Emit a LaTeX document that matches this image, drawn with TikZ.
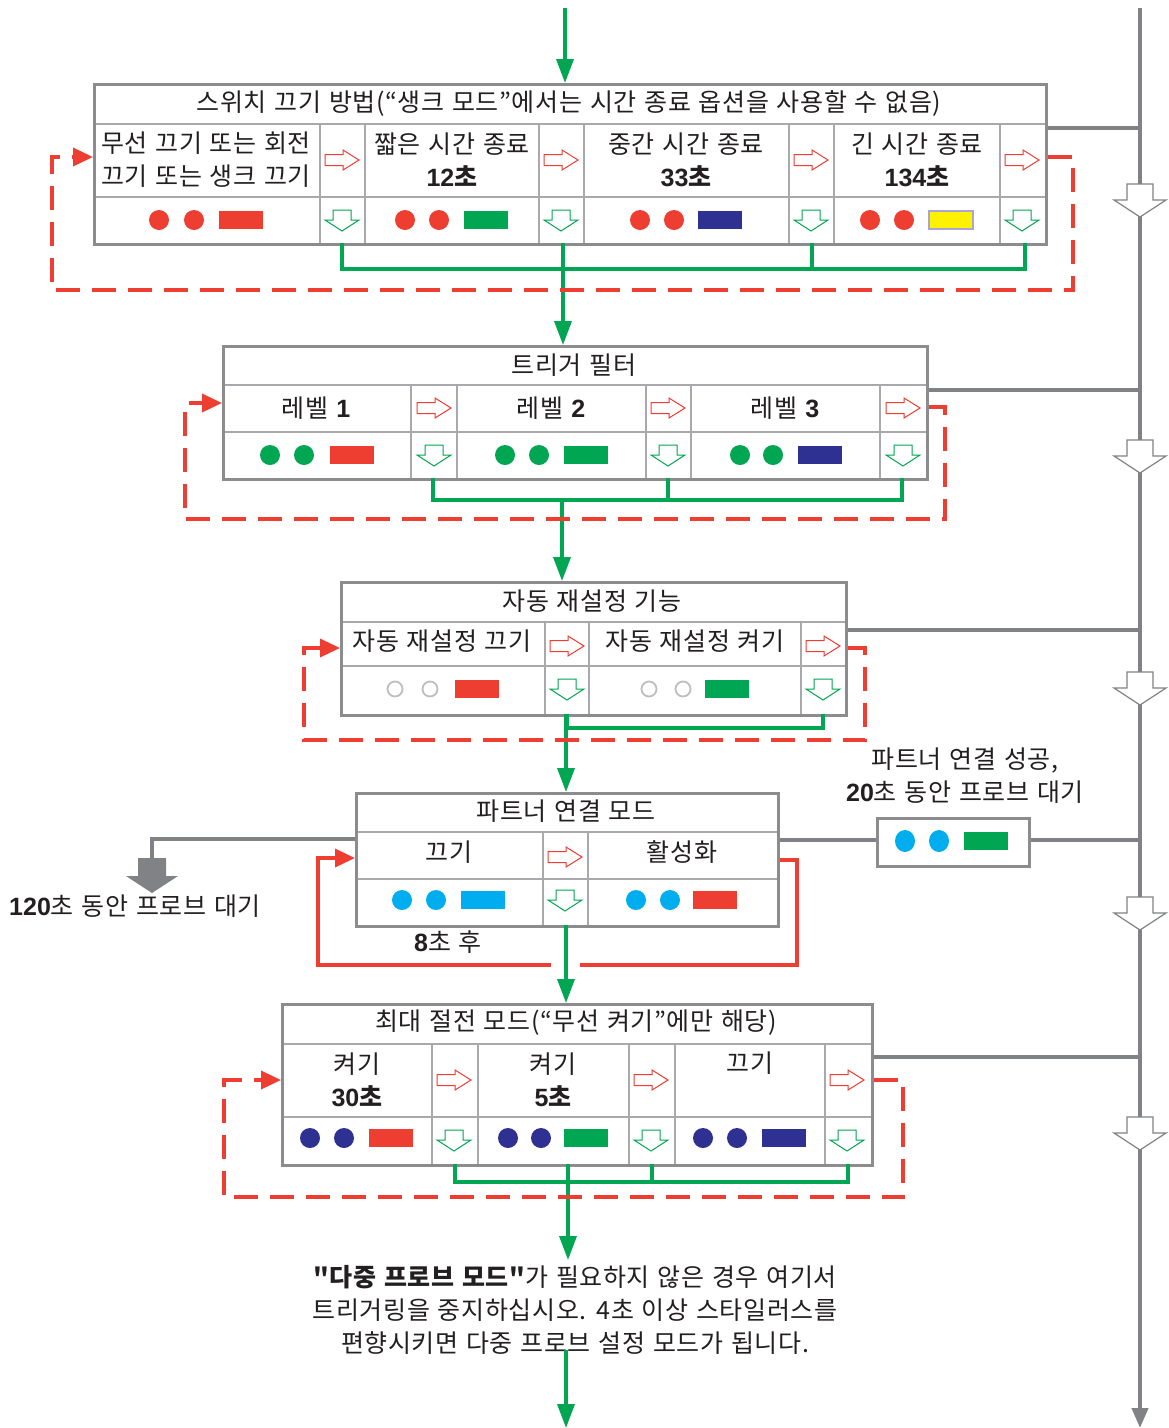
\documentclass[tikz,border=0pt]{standalone}
\usepackage{fontspec}
\setmainfont{Noto Sans CJK KR}[WordSpace=1.25,LetterSpace=2.5]
\newfontfamily\qfont{Noto Sans CJK KR}[WordSpace=1.25,LetterSpace=2.5]
\newfontfamily\numfont{Liberation Sans}
\usetikzlibrary{arrows.meta}
\definecolor{cred}{RGB}{238,62,50}
\definecolor{cgreen}{RGB}{0,166,81}
\definecolor{cnavy}{RGB}{46,49,146}
\definecolor{cyellow}{RGB}{255,242,0}
\definecolor{lav}{RGB}{170,165,210}
\definecolor{ccyan}{RGB}{0,174,239}
\definecolor{lgray}{RGB}{128,130,133}
\definecolor{boxgray}{RGB}{140,140,143}
\definecolor{innergray}{RGB}{167,169,172}
\definecolor{ringgray}{RGB}{188,190,192}
\definecolor{txtc}{RGB}{35,31,32}
\newcommand{\bn}[1]{{\numfont\bfseries #1}}
\newcommand{\mk}[6]{\fill[#5] (#1,#4) circle (10pt) (#2,#4) circle (10pt); \fill[#6] (#3,#4-9) rectangle (#3+44,#4+9);}
\newcommand{\mkring}[4]{\draw[ringgray,line width=1.8pt] (#1,#3) circle (7.5pt) (#2,#3) circle (7.5pt);}
\tikzset{
  box/.style={draw=boxgray, line width=2.5pt, inner sep=0pt, anchor=north west},
  inl/.style={draw=innergray, line width=1.3pt},
  gline/.style={draw=cgreen, line width=3.5pt},
  garrow/.style={draw=cgreen, line width=3.5pt, -{Triangle[length=24pt,width=17pt]}},
  rdash/.style={draw=cred, line width=3.5pt, dash pattern=on 24pt off 12pt, -{Triangle[length=20pt,width=18pt]}},
  rsolid/.style={draw=cred, line width=3.5pt},
  rsolidarrow/.style={draw=cred, line width=3.5pt, -{Triangle[length=20pt,width=18pt]}},
  grayline/.style={draw=lgray, line width=4pt},
  txt/.style={text=txtc, inner sep=0pt, align=center},
  rarr/.pic={\draw[cred,line width=1pt,fill=white] (-17,-5.5)--(1,-5.5)--(1,-10)--(17,0)--(1,10)--(1,5.5)--(-17,5.5)--cycle;},
  darr/.pic={\draw[cgreen,line width=1pt,fill=white] (-9,-11)--(9,-11)--(9,-1)--(17,-1)--(0,10)--(-17,-1)--(-9,-1)--cycle;},
  harr/.pic={\draw[lgray,line width=1.2pt,fill=white] (-13,-16)--(13,-16)--(13,0)--(26,0)--(0,17)--(-26,0)--(-13,0)--cycle;},
}
\begin{document}
\begin{tikzpicture}[x=1pt,y=-1pt,font=\fontsize{25}{33}\selectfont]
\useasboundingbox[fill=white] (0,0) rectangle (1169,1428);

% ---------- gray main line on the right ----------
\coordinate (gtop) at (1140,8);
\coordinate (gbot) at (1140,1428);
\draw[grayline,-{Triangle[length=20pt,width=16pt]}] (gtop) -- (gbot);
\foreach \y in {184,440,672,897,1117} \pic at (1140,\y+16) {harr};

% ---------- Box 1 ----------
\foreach \x in {320,365,539,584,789,834,1000} \draw[inl] (\x,124) -- (\x,243);
\draw[inl] (93,124) -- (1045,124) (93,197) -- (1045,197);
\node[box, minimum width=952pt, minimum height=160pt] (b1) at (93,83) {};
\node[txt] (b1t) at (569,103) {스위치 끄기 방법(“생크 모드”에서는 시간 종료 옵션을 사용할 수 없음)};
\node[txt] (b1a) at (206,159.5) {무선 끄기 또는 회전\\끄기 또는 생크 끄기};
\node[txt] (b1b) at (452,159.5) {짧은 시간 종료\\\bn{12}{\bfseries 초}};
\node[txt] (b1c) at (686,159.5) {중간 시간 종료\\\bn{33}{\bfseries 초}};
\node[txt] (b1d) at (917,159.5) {긴 시간 종료\\\bn{134}{\bfseries 초}};
\foreach \x in {342,561,811,1022} {\pic at (\x,160) {rarr}; \pic at (\x,221) {darr};}
\mk{159}{194}{219}{220}{cred}{cred}
\mk{405}{439}{464}{220}{cred}{cgreen}
\mk{640}{674}{698}{220}{cred}{cnavy}
\mk{870}{904}{929}{220}{cred}{cyellow}
\draw[lav,line width=1.3pt] (929,211) rectangle (973,229);

% ---------- Box 2 ----------
\foreach \x in {411,457,646,691,880} \draw[inl] (\x,385) -- (\x,478);
\draw[inl] (222,385) -- (926,385) (222,432) -- (926,432);
\node[box, minimum width=704pt, minimum height=133pt] (b2) at (222,345) {};
\node[txt] (b2t) at (574,365) {트리거 필터};
\node[txt] (b2a) at (316,408) {레벨 \bn{1}};
\node[txt] (b2b) at (551,408) {레벨 \bn{2}};
\node[txt] (b2c) at (785,408) {레벨 \bn{3}};
\foreach \x in {434,668,903} {\pic at (\x,408) {rarr}; \pic at (\x,456) {darr};}
\mk{270}{304}{330}{455}{cgreen}{cred}
\mk{505}{539}{564}{455}{cgreen}{cgreen}
\mk{740}{773}{798}{455}{cgreen}{cnavy}

% ---------- Box 3 ----------
\foreach \x in {545,589,801} \draw[inl] (\x,622) -- (\x,714);
\draw[inl] (340,622) -- (845,622) (340,666) -- (845,666);
\node[box, minimum width=505pt, minimum height=133pt] (b3) at (340,581) {};
\node[txt] (b3t) at (592,601) {자동 재설정 기능};
\node[txt] (b3a) at (442,641) {자동 재설정 끄기};
\node[txt] (b3b) at (695,641) {자동 재설정 켜기};
\foreach \x in {567,823} {\pic at (\x,646) {rarr}; \pic at (\x,690) {darr};}
\mkring{395}{430}{689}{}
\fill[cred] (455,680) rectangle (499,698);
\mkring{649}{683}{689}{}
\fill[cgreen] (705,680) rectangle (749,698);

% ---------- Box 4 ----------
\foreach \x in {543,588} \draw[inl] (\x,832) -- (\x,925);
\draw[inl] (355,832) -- (777,832) (355,879) -- (777,879);
\node[box, minimum width=422pt, minimum height=133pt] (b4) at (355,792) {};
\node[txt] (b4t) at (566,811) {파트너 연결 모드};
\node[txt] (b4a) at (449,852) {끄기};
\node[txt] (b4b) at (682,852) {활성화};
\pic at (565,857) {rarr}; \pic at (565,901) {darr};
\mk{402}{436}{461}{900}{ccyan}{ccyan}
\mk{636}{670}{693}{900}{ccyan}{cred}

% small box
\node[box, minimum width=152pt, minimum height=48pt] (sb) at (876,817) {};
\fill[ccyan] (905,841) ellipse (10pt and 11pt) (939,841) ellipse (10pt and 11pt);
\fill[cgreen] (964,832) rectangle (1008,850);
\node[txt] (sbl) at (965,775.5) {파트너 연결 성공,\\\bn{20}초 동안 프로브 대기};

% ---------- Box 5 ----------
\foreach \x in {432,478,629,675,825} \draw[inl] (\x,1044) -- (\x,1164);
\draw[inl] (281,1044) -- (871,1044) (281,1117) -- (871,1117);
\node[box, minimum width=590pt, minimum height=161pt] (b5) at (281,1003) {};
\node[txt] (b5t) at (576,1023) {최대 절전 모드(“무선 켜기”에만 해당)};
\node[txt] (b5a) at (357,1080) {켜기\\\bn{30}{\bfseries 초}};
\node[txt] (b5b) at (553,1080) {켜기\\\bn{5}{\bfseries 초}};
\node[txt] (b5c) at (750,1063) {끄기};
\foreach \x in {454,651,847} {\pic at (\x,1080) {rarr}; \pic at (\x,1141) {darr};}
\mk{310}{344}{369}{1138}{cnavy}{cred}
\mk{508}{541}{564}{1138}{cnavy}{cgreen}
\mk{703}{737}{762}{1138}{cnavy}{cnavy}

% ---------- labels ----------
\node[txt] (l120) at (135,906) {\bn{120}초 동안 프로브 대기};
\node[txt] (l8) at (448,942) {\bn{8}초 후};
\node[txt] (lend) at (575,1310) {{\qfont\bfseries "다중 프로브 모드"}가 필요하지 않은 경우 여기서\\트리거링을 중지하십시오. 4초 이상 스타일러스를\\편향시키면 다중 프로브 설정 모드가 됩니다.};

% ---------- green connectors ----------
\coordinate (in1) at (565,8);
\draw[garrow] (in1) -- (in1 |- b1.north);
\draw[gline] (342,243) -- (342,269) -- (1025,269) -- (1025,243) (563,243) -- (563,269) (812,243) -- (812,269);
\draw[garrow] (563,243) -- (563,345);
\draw[gline] (433,478) -- (433,500) -- (902,500) -- (902,478) (668,478) -- (668,500);
\draw[garrow] (562,500) -- (562,581);
\draw[gline] (567,714) -- (567,728) -- (823,728) -- (823,714);
\draw[garrow] (566,714) -- (566,792);
\draw[garrow] (566,925) -- (566,1003);
\draw[gline] (455,1164) -- (455,1182) -- (848,1182) -- (848,1164) (652,1164) -- (652,1182);
\draw[garrow] (568,1164) -- (568,1260);
\coordinate (out1) at (566,1428);
\draw[garrow] (566,1350) -- (out1);

% ---------- gray connectors ----------
\draw[grayline] (b1.east |- 0,128) -- (gtop |- 0,128);
\draw[grayline] (b2.east |- 0,390) -- (gtop |- 0,390);
\draw[grayline] (b3.east |- 0,630) -- (gtop |- 0,630);
\draw[grayline] (b4.east |- 0,840) -- (sb.west |- 0,840);
\draw[grayline] (sb.east |- 0,840) -- (gtop |- 0,840);
\draw[grayline] (b5.east |- 0,1057) -- (gtop |- 0,1057);
\draw[grayline] (b4.west |- 0,839) -- (152,839) -- (152,860);
\fill[lgray] (138,858) -- (166,858) -- (166,876) -- (178,876) -- (152,893) -- (126,876) -- (138,876) -- cycle;

% ---------- red loops ----------
\draw[rdash] (b1.east |- 0,157) -- (1073,157) -- (1073,290) -- (52,290) -- (52,157) -- (b1.west |- 0,157);
\draw[rdash] (b2.east |- 0,407) -- (945,407) -- (945,519) -- (185,519) -- (185,403) -- (b2.west |- 0,403);
\draw[rdash] (b3.east |- 0,648) -- (865,648) -- (865,740) -- (304,740) -- (304,648) -- (b3.west |- 0,648);
\draw[rdash] (b5.east |- 0,1080) -- (903,1080) -- (903,1197) -- (224,1197) -- (224,1080) -- (b5.west |- 0,1080);
\draw[rsolid] (b4.east |- 0,860) -- (797,860) -- (797,965) -- (580,965);
\draw[rsolidarrow] (551,965) -- (318,965) -- (318,858) -- (b4.west |- 0,858);
\end{tikzpicture}
\end{document}
